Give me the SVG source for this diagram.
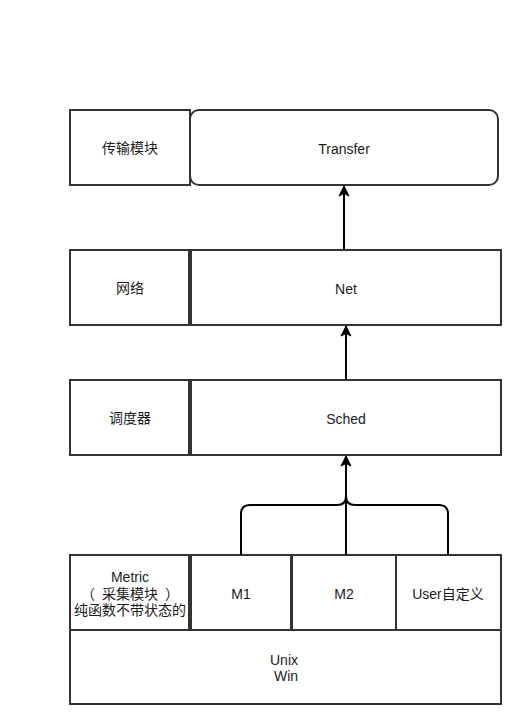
<svg xmlns="http://www.w3.org/2000/svg" width="521" height="725" viewBox="0 0 521 725">
  <style>
    .box { fill: #ffffff; stroke: #333333; stroke-width: 2; }
    .lbl { font-family: "Liberation Sans", "Noto Sans CJK SC", sans-serif; font-size: 14px; fill: #1a1a1a; text-anchor: middle; }
    .edge { fill: none; stroke: #000000; stroke-width: 2; }
  </style>
  <defs>
    <marker id="arrow" markerUnits="userSpaceOnUse" markerWidth="14" markerHeight="14" viewBox="0 0 14 14" refX="12" refY="7" orient="auto">
      <path d="M12,7 L2,2 L4.5,7 L2,12 Z" fill="#000000" stroke="#000000" stroke-width="1"/>
    </marker>
  </defs>
  <rect width="521" height="725" fill="#ffffff"/>

  <!-- transfer layer -->
  <g id="transfer-label">
    <rect class="box" x="70" y="110" width="120" height="75"/>
    <text class="lbl" x="130" y="153">传输模块</text>
  </g>
  <g id="transfer">
    <rect class="box" x="190" y="110" width="308" height="75" rx="9" ry="9"/>
    <text class="lbl" x="344" y="154">Transfer</text>
  </g>

  <!-- network layer -->
  <g id="net-label">
    <rect class="box" x="70" y="250" width="119" height="75"/>
    <text class="lbl" x="130" y="293">网络</text>
  </g>
  <g id="net">
    <rect class="box" x="191" y="250" width="310" height="75"/>
    <text class="lbl" x="346" y="294">Net</text>
  </g>

  <!-- scheduler layer -->
  <g id="sched-label">
    <rect class="box" x="70" y="380" width="119" height="75"/>
    <text class="lbl" x="130" y="423">调度器</text>
  </g>
  <g id="sched">
    <rect class="box" x="191" y="380" width="310" height="75"/>
    <text class="lbl" x="346" y="424">Sched</text>
  </g>

  <!-- metric layer -->
  <g id="metric-label">
    <rect class="box" x="70" y="555" width="119" height="75"/>
    <text class="lbl" x="130" y="582">Metric</text>
    <text class="lbl" y="599"><tspan x="88">（</tspan><tspan x="130">采集模块</tspan><tspan x="172">）</tspan></text>
    <text class="lbl" x="130" y="615">纯函数不带状态的</text>
  </g>
  <g id="m1">
    <rect class="box" x="191" y="555" width="100" height="75"/>
    <text class="lbl" x="241" y="599">M1</text>
  </g>
  <g id="m2">
    <rect class="box" x="292" y="555" width="104" height="75"/>
    <text class="lbl" x="344" y="599">M2</text>
  </g>
  <g id="user">
    <rect class="box" x="396" y="555" width="105" height="75"/>
    <text class="lbl" x="448" y="599">User自定义</text>
  </g>

  <!-- platform -->
  <g id="platform">
    <rect class="box" x="70" y="630" width="431" height="74"/>
    <text class="lbl" x="284" y="665">Unix</text>
    <text class="lbl" x="286" y="681">Win</text>
  </g>

  <g id="connectors">
    <path class="edge" d="M344,250 L344,186" marker-end="url(#arrow)"/>
    <path class="edge" d="M346,380 L346,326" marker-end="url(#arrow)"/>
    <path class="edge" d="M346,555 L346,456" marker-end="url(#arrow)"/>
    <path class="edge" d="M241,555 L241,514 Q241,505 250,505 L337,505 Q346,505 346,496"/>
    <path class="edge" d="M448,555 L448,514 Q448,505 439,505 L355,505 Q346,505 346,496"/>
  </g>
</svg>
